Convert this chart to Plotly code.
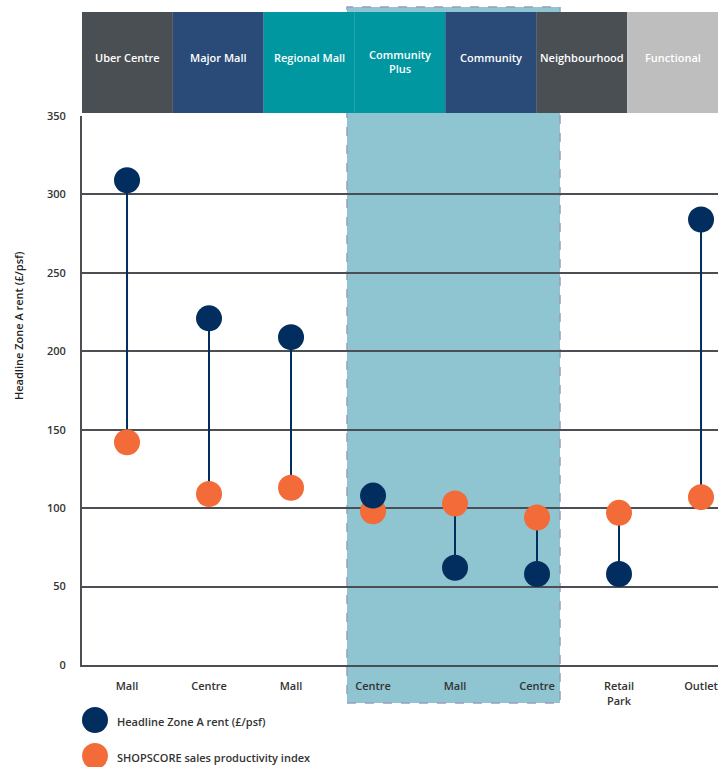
import plotly.graph_objects as go

# ---- data ----
groups = ["Uber Centre", "Major Mall", "Regional Mall", "Community<br>Plus",
          "Community", "Neighbourhood", "Functional"]
group_colors = ["#4A4F54", "#2A4A78", "#0097A1", "#0097A1",
                "#2A4A78", "#4A4F54", "#BDBEBD"]
categories = ["Mall", "Centre", "Mall", "Centre", "Mall", "Centre", "Retail<br>Park", "Outlet"]
rent = [309, 221, 209, 108, 62, 58, 58, 284]
shopscore = [142, 109, 113, 98, 103, 94, 97, 107]
y_ticks = [0, 50, 100, 150, 200, 250, 300, 350]
series_names = ["Headline Zone A rent (£/psf)", "SHOPSCORE sales productivity index"]

BLUE = "#022E5F"
ORANGE = "#F26B38"
GRID = "#4B4F54"
FONT = "Open Sans"

xs = list(range(len(categories)))

fig = go.Figure()

# connectors
lx, ly = [], []
for x, a, b in zip(xs, rent, shopscore):
    lx += [x, x, None]
    ly += [a, b, None]
fig.add_trace(go.Scatter(x=lx, y=ly, mode="lines", line=dict(color=BLUE, width=2),
                         showlegend=False, hoverinfo="skip"))
fig.add_trace(go.Scatter(x=xs, y=shopscore, mode="markers", name=series_names[1],
                         marker=dict(color=ORANGE, size=26, line=dict(width=0)),
                         showlegend=False))
fig.add_trace(go.Scatter(x=xs, y=rent, mode="markers", name=series_names[0],
                         marker=dict(color=BLUE, size=26, line=dict(width=0)),
                         showlegend=False))

W, H = 718, 767
L, R, T, B = 82, 0, 116, 102
PW, PH = W - L - R, H - T - B


def px(xp):
    return (xp - L) / PW


def py(yp):
    return (H - B - yp) / PH


shapes = []
# highlighted band
shapes.append(dict(type="rect", xref="paper", yref="paper",
                   x0=px(347), x1=px(560), y0=py(703), y1=py(7),
                   fillcolor="#8FC4D1", line=dict(color="#9A9CC0", width=1.5, dash="dash"),
                   layer="below"))
annotations = []
n = len(groups)
for i, (g, c) in enumerate(zip(groups, group_colors)):
    shapes.append(dict(type="rect", xref="paper", yref="paper",
                       x0=i / n, x1=(i + 1) / n, y0=py(113), y1=py(12),
                       fillcolor=c, line=dict(width=0), layer="below"))
    annotations.append(dict(x=(i + 0.5) / n, y=py(62 if "<br>" in g else 57),
                            xref="paper", yref="paper",
                            text=g, showarrow=False, xanchor="center", yanchor="middle",
                            font=dict(family=FONT, size=11, color="white", weight=600)))

# legend (manual)
for name, col, yc in zip(series_names, [BLUE, ORANGE], [720, 756]):
    shapes.append(dict(type="circle", xref="paper", yref="paper",
                       xsizemode="pixel", ysizemode="pixel",
                       xanchor=px(95), yanchor=py(yc), x0=-13, x1=13, y0=-13, y1=13,
                       fillcolor=col, line=dict(width=0)))
    annotations.append(dict(x=px(115), y=py(yc + 1), xref="paper", yref="paper",
                            text=name, showarrow=False, xanchor="left", yanchor="middle",
                            font=dict(family=FONT, size=11, color="#333333", weight=600)))

# y-axis title
annotations.append(dict(x=px(18), y=py(326), xref="paper", yref="paper",
                        text="Headline Zone A rent (£/psf)", textangle=-90, showarrow=False,
                        xanchor="center", yanchor="middle",
                        font=dict(family=FONT, size=11, color="#222222", weight=600)))

fig.update_layout(
    width=W, height=H,
    margin=dict(l=L, r=R, t=T, b=B, pad=0),
    paper_bgcolor="white", plot_bgcolor="rgba(0,0,0,0)",
    shapes=shapes, annotations=annotations,
    showlegend=False,
    font=dict(family=FONT, size=11, color="#333333"),
)
fig.update_xaxes(range=[-0.549, 7.207], tickvals=xs, ticktext=categories,
                 showgrid=False, zeroline=False, showline=True, linecolor=GRID, linewidth=2,
                 ticks="outside", ticklen=10, tickcolor="rgba(0,0,0,0)",
                 ticklabeloverflow="allow",
                 tickfont=dict(family=FONT, size=11, color="#333333", weight=600))
fig.update_yaxes(range=[0, 350], tickvals=y_ticks, showgrid=True, gridcolor=GRID, gridwidth=2,
                 zeroline=False, showline=True, linecolor=GRID, linewidth=2,
                 ticks="outside", ticklen=12, tickcolor="rgba(0,0,0,0)",
                 tickfont=dict(family=FONT, size=11, color="#333333", weight=600))

fig.write_html("out.html")
